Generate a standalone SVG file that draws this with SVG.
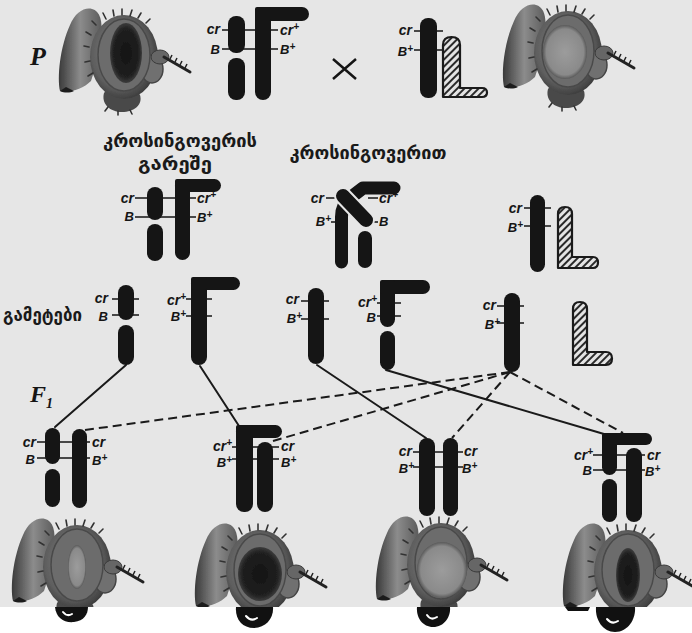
<svg xmlns="http://www.w3.org/2000/svg" width="692" height="633" viewBox="0 0 692 633">
<defs>
<style>
.ch{fill:#151515}
.tk{stroke:#151515;stroke-width:1.6;fill:none}
.lb{font-family:"Liberation Sans",Arial,sans-serif;font-style:italic;font-weight:bold;fill:#151515}
.cr{font-size:14px}
.b{font-size:13px}
.sp{font-size:10px}
.ge{font-family:"DejaVu Sans","Noto Sans Georgian",sans-serif;font-weight:bold;font-size:18px;fill:#1a1a1a}
.gen{font-family:"Liberation Serif","Times New Roman",serif;font-style:italic;font-weight:bold;fill:#151515}
.link{stroke:#1a1a1a;stroke-width:2;fill:none;stroke-linecap:round}
.dash{stroke-dasharray:9 5;stroke-linecap:butt}
.hatch{fill:url(#hatch);stroke:#1a1a1a;stroke-width:2.2;stroke-linejoin:round}
.mouth{fill:#111}
.glint{fill:none;stroke:#fff;stroke-width:2;stroke-linecap:round}
</style>
<pattern id="hatch" width="5" height="5" patternUnits="userSpaceOnUse" patternTransform="rotate(45)">
<rect width="5" height="5" fill="#e4e4e4"/>
<line x1="1" y1="0" x2="1" y2="5" stroke="#2a2a2a" stroke-width="2"/>
</pattern>
<linearGradient id="wingG" x1="0" y1="0" x2="1" y2="0">
<stop offset="0" stop-color="#3a3a3a"/><stop offset="0.5" stop-color="#8c8c8c"/><stop offset="1" stop-color="#5c5c5c"/>
</linearGradient>
<radialGradient id="headG" cx="0.45" cy="0.45" r="0.6">
<stop offset="0" stop-color="#8a8a8a"/><stop offset="0.7" stop-color="#5e5e5e"/><stop offset="1" stop-color="#353535"/>
</radialGradient>
<radialGradient id="darkEye">
<stop offset="0" stop-color="#141414"/><stop offset="0.8" stop-color="#202020"/><stop offset="1" stop-color="#3c3c3c"/>
</radialGradient>
<radialGradient id="lightEye">
<stop offset="0" stop-color="#9c9c9c"/><stop offset="0.85" stop-color="#8a8a8a"/><stop offset="1" stop-color="#5a5a5a"/>
</radialGradient>
<filter id="soft" x="-5%" y="-5%" width="110%" height="110%"><feGaussianBlur stdDeviation="0.6"/></filter>
<!-- fly head seen from the front-side; the eye is added per individual -->
<g id="fly">
<path d="M4,84 C1,70 4,40 14,18 C19,6 28,0 36,2 C44,4 47,14 45,30 C43,48 39,62 35,74 C27,82 14,86 4,84 Z" fill="url(#wingG)"/>
<path d="M4,84 C8,86 14,86 18,84 L10,80 Z" fill="#1e1e1e"/>
<path d="M48,86 C45,97 54,105 66,105 C78,105 87,98 84,88 C80,81 52,80 48,86 Z" fill="#4a4a4a"/>
<ellipse cx="68" cy="50" rx="34" ry="42" fill="url(#headG)"/>
<ellipse cx="96" cy="62" rx="11" ry="14" fill="#707070" stroke="#454545" stroke-width="1.5"/>
<ellipse cx="104" cy="50" rx="9" ry="7" fill="#666" stroke="#3a3a3a" stroke-width="1"/>
<path d="M108,50 L134,65" stroke="#222" stroke-width="3" stroke-linecap="round"/>
<path d="M114,52 l2,-4 M119,55 l2,-4 M124,58 l2,-4 M129,61 l2,-4" stroke="#222" stroke-width="1.5"/>
<path d="M50,12 l-3,-6 M58,9 l-1,-6 M66,8 l0,-6 M74,9 l2,-6 M82,11 l3,-5 M90,16 l4,-4 M40,18 l-4,-4 M35,28 l-5,-3 M33,40 l-5,-1 M34,54 l-5,1 M37,66 l-5,3 M52,100 l-3,4 M62,104 l0,4 M74,103 l2,4" stroke="#333" stroke-width="1.6" stroke-linecap="round"/>
<ellipse cx="68" cy="48" rx="26" ry="36" fill="#6c6c6c" stroke="#4a4a4a" stroke-width="1.5"/>
</g>
</defs>

<!-- page -->
<rect width="692" height="633" fill="#e6e6e6"/>

<!-- flies -->
<g id="fly-p1" transform="translate(56,7)" filter="url(#soft)">
<use href="#fly"/><ellipse cx="70" cy="46" rx="16" ry="30" fill="url(#darkEye)"/>
</g>
<g id="fly-p2" transform="translate(500,3)" filter="url(#soft)">
<use href="#fly"/><ellipse cx="65" cy="49" rx="22" ry="27" fill="url(#lightEye)"/>
</g>
<g id="fly-f1" transform="translate(9,517)" filter="url(#soft)">
<use href="#fly"/><ellipse cx="68" cy="50" rx="9" ry="22" fill="url(#lightEye)"/>
</g>
<g id="fly-f2" transform="translate(192,522)" filter="url(#soft)">
<use href="#fly"/><ellipse cx="68" cy="52" rx="22" ry="27" fill="url(#darkEye)"/>
</g>
<g id="fly-f3" transform="translate(373,515)" filter="url(#soft)">
<use href="#fly"/><ellipse cx="69" cy="55" rx="25" ry="28" fill="url(#lightEye)"/>
</g>
<g id="fly-f4" transform="translate(560,522)" filter="url(#soft)">
<use href="#fly"/><ellipse cx="68" cy="53" rx="12" ry="27" fill="url(#darkEye)"/>
</g>

<!-- bottom strip with mouthparts -->
<rect x="0" y="607" width="692" height="26" fill="#fff"/>
<g id="mouthparts">
<path class="mouth" d="M55,607 H88 C88,614 84,621 74,622 C64,623 56,618 55,607 Z"/><path class="glint" d="M63,612 q4,5 9,2"/>
<path class="mouth" d="M236,607 H273 C274,618 266,628 254,628 C242,628 235,619 236,607 Z"/><path class="glint" d="M246,616 q5,6 11,2"/>
<path class="mouth" d="M417,607 H450 C451,617 444,627 433,627 C423,627 416,618 417,607 Z"/><path class="glint" d="M427,615 q4,6 10,2"/>
<path class="mouth" d="M596,607 H635 C636,619 628,632 615,632 C603,632 595,620 596,607 Z"/><path class="glint" d="M607,619 q5,6 11,2"/>
<path class="mouth" d="M565,607 H590 L588,611 H568 Z"/>
</g>

<!-- generation marks -->
<text class="gen" x="30" y="65" font-size="26">P</text>
<text class="gen" x="30" y="402" font-size="24">F<tspan font-size="14" dy="6">1</tspan></text>
<path d="M333,59 L356,79 M356,59 L333,79" stroke="#151515" stroke-width="2.5" fill="none"/>

<!-- captions -->
<text class="ge" x="180" y="147" text-anchor="middle" textLength="154" lengthAdjust="spacingAndGlyphs">კროსინგოვერის</text>
<text class="ge" x="175" y="170" text-anchor="middle" textLength="74" lengthAdjust="spacingAndGlyphs">გარეშე</text>
<text class="ge" x="368" y="159" text-anchor="middle" textLength="157" lengthAdjust="spacingAndGlyphs">კროსინგოვერით</text>
<text class="ge" x="3" y="321" font-size="16" textLength="79" lengthAdjust="spacingAndGlyphs">გამეტები</text>

<!-- connectors -->
<g id="connectors">
<path class="link" d="M126,365 L55,427"/>
<path class="link" d="M200,366 L239,426"/>
<path class="link" d="M317,365 L426,438"/>
<path class="link" d="M386,370 L604,434"/>
<path class="link dash" d="M510,372 L85,430"/>
<path class="link dash" d="M510,372 L273,441"/>
<path class="link dash" d="M510,372 L452,438"/>
<path class="link dash" d="M510,372 L623,433"/>
</g>

<!-- parents -->
<g id="p-female">
<path class="tk" d="M222,30 H278 M222,49 H278"/>
<rect class="ch" x="228" y="16" width="17" height="37" rx="8"/>
<rect class="ch" x="228" y="58" width="17" height="42" rx="8"/>
<rect class="ch" x="255" y="7" width="16" height="93" rx="8"/>
<rect class="ch" x="255" y="7" width="54" height="14" rx="7"/>
<rect class="ch" x="255" y="7" width="16" height="14" rx="2"/>
<text class="lb cr" x="220" y="34" text-anchor="end">cr</text>
<text class="lb b" x="220" y="54" text-anchor="end">B</text>
<text class="lb cr" x="280" y="35">cr<tspan class="sp" dy="-5">+</tspan></text>
<text class="lb b" x="280" y="54">B<tspan class="sp" dy="-4">+</tspan></text>
</g>
<g id="p-male">
<path class="tk" d="M414,31 H443 M414,50 H443"/>
<rect class="ch" x="420" y="18" width="17" height="80" rx="8"/>
<path class="hatch" d="M443,97 V45 Q443,37 451.5,37 Q460,37 460,45 V88 H482 Q487,88 487,92.5 Q487,97 482,97 Z"/>
<text class="lb cr" x="412" y="35" text-anchor="end">cr</text>
<text class="lb b" x="413" y="56" text-anchor="end">B<tspan class="sp" dy="-4">+</tspan></text>
</g>

<!-- meiosis without crossing over -->
<g id="no-crossover">
<path class="tk" d="M135,198 H196 M135,217 H196"/>
<rect class="ch" x="147" y="187" width="16" height="33" rx="8"/>
<rect class="ch" x="147" y="224" width="16" height="37" rx="8"/>
<rect class="ch" x="175" y="179" width="15" height="81" rx="7.5"/>
<rect class="ch" x="175" y="179" width="46" height="13" rx="6.5"/>
<rect class="ch" x="175" y="179" width="15" height="13" rx="2"/>
<text class="lb cr" x="134" y="203" text-anchor="end">cr</text>
<text class="lb b" x="134" y="221" text-anchor="end">B</text>
<text class="lb cr" x="197" y="203">cr<tspan class="sp" dy="-5">+</tspan></text>
<text class="lb b" x="197" y="222">B<tspan class="sp" dy="-4">+</tspan></text>
</g>

<!-- meiosis with crossing over -->
<g id="crossover">
<path class="tk" d="M326,198 H340 M368,198 H378 M331,222 H338 M366,222 H378"/>
<path d="M341.5,262 V217 Q341.5,205 350,198 L363,188 H394" stroke="#151515" stroke-width="13" fill="none" stroke-linecap="round" stroke-linejoin="round"/>
<rect class="ch" x="358" y="231" width="14" height="37" rx="7"/>
<path d="M343,196 L366,220" stroke="#e6e6e6" stroke-width="18" stroke-linecap="round"/>
<path d="M343,196 L366,220" stroke="#151515" stroke-width="14" stroke-linecap="round"/>
<text class="lb cr" x="324" y="203" text-anchor="end">cr</text>
<text class="lb b" x="331" y="226" text-anchor="end">B<tspan class="sp" dy="-4">+</tspan></text>
<text class="lb cr" x="379" y="203">cr<tspan class="sp" dy="-5">+</tspan></text>
<text class="lb b" x="379" y="226">B</text>
</g>

<g id="male-meiosis">
<path class="tk" d="M524,208 H551 M524,226 H551"/>
<rect class="ch" x="530" y="195" width="15" height="77" rx="7.5"/>
<path class="hatch" d="M558,268 V214 Q558,207 565,207 Q572,207 572,214 V257 H593 Q598,257 598,262.5 Q598,268 593,268 Z"/>
<text class="lb cr" x="522" y="213" text-anchor="end">cr</text>
<text class="lb b" x="523" y="232" text-anchor="end">B<tspan class="sp" dy="-4">+</tspan></text>
</g>

<!-- gametes -->
<g id="gamete-1">
<path class="tk" d="M112,299 H139 M112,315 H139"/>
<rect class="ch" x="118" y="285" width="16" height="35" rx="8"/>
<rect class="ch" x="118" y="325" width="16" height="40" rx="8"/>
<text class="lb cr" x="108" y="303" text-anchor="end">cr</text>
<text class="lb b" x="108" y="321" text-anchor="end">B</text>
</g>
<g id="gamete-2">
<path class="tk" d="M186,299 H212 M186,316 H212"/>
<rect class="ch" x="191" y="277" width="16" height="88" rx="8"/>
<rect class="ch" x="191" y="277" width="49" height="13" rx="6.5"/>
<rect class="ch" x="191" y="277" width="16" height="13" rx="2"/>
<text class="lb cr" x="186" y="305" text-anchor="end">cr<tspan class="sp" dy="-5">+</tspan></text>
<text class="lb b" x="186" y="321" text-anchor="end">B<tspan class="sp" dy="-4">+</tspan></text>
</g>
<g id="gamete-3">
<path class="tk" d="M301,301 H329 M301,319 H329"/>
<rect class="ch" x="308" y="288" width="16" height="76" rx="8"/>
<text class="lb cr" x="299" y="304" text-anchor="end">cr</text>
<text class="lb b" x="302" y="323" text-anchor="end">B<tspan class="sp" dy="-4">+</tspan></text>
</g>
<g id="gamete-4">
<path class="tk" d="M377,303 H401 M377,316 H401"/>
<rect class="ch" x="380" y="280" width="15" height="47" rx="7.5"/>
<rect class="ch" x="380" y="280" width="50" height="14" rx="7"/>
<rect class="ch" x="380" y="280" width="15" height="14" rx="2"/>
<rect class="ch" x="380" y="331" width="15" height="39" rx="7.5"/>
<text class="lb cr" x="377" y="307" text-anchor="end">cr<tspan class="sp" dy="-5">+</tspan></text>
<text class="lb b" x="376" y="322" text-anchor="end">B</text>
</g>
<g id="gamete-5">
<path class="tk" d="M497,306 H524 M497,323 H524"/>
<rect class="ch" x="504" y="293" width="16" height="79" rx="8"/>
<text class="lb cr" x="496" y="310" text-anchor="end">cr</text>
<text class="lb b" x="500" y="329" text-anchor="end">B<tspan class="sp" dy="-4">+</tspan></text>
</g>
<g id="gamete-6">
<path class="hatch" d="M573,365 V309 Q573,302 580,302 Q587,302 587,309 V352 H606 Q612,352 612,358.5 Q612,365 606,365 Z"/>
</g>

<!-- F1 offspring -->
<g id="f1-a">
<path class="tk" d="M37,442 H90 M37,458 H90"/>
<rect class="ch" x="45" y="428" width="15" height="36" rx="7.5"/>
<rect class="ch" x="45" y="469" width="15" height="38" rx="7.5"/>
<rect class="ch" x="72" y="429" width="15" height="79" rx="7.5"/>
<text class="lb cr" x="36" y="447" text-anchor="end">cr</text>
<text class="lb b" x="35" y="464" text-anchor="end">B</text>
<text class="lb cr" x="92" y="447">cr</text>
<text class="lb b" x="92" y="465">B<tspan class="sp" dy="-4">+</tspan></text>
</g>
<g id="f1-b">
<path class="tk" d="M232,447 H279 M232,459 H279"/>
<rect class="ch" x="236" y="425" width="17" height="87" rx="8"/>
<rect class="ch" x="236" y="425" width="46" height="13" rx="6.5"/>
<rect class="ch" x="236" y="425" width="17" height="13" rx="2"/>
<rect class="ch" x="257" y="442" width="16" height="70" rx="8"/>
<text class="lb cr" x="232" y="451" text-anchor="end">cr<tspan class="sp" dy="-5">+</tspan></text>
<text class="lb b" x="232" y="467" text-anchor="end">B<tspan class="sp" dy="-4">+</tspan></text>
<text class="lb cr" x="281" y="451">cr</text>
<text class="lb b" x="281" y="467">B<tspan class="sp" dy="-4">+</tspan></text>
</g>
<g id="f1-c">
<path class="tk" d="M413,452 H463 M413,467 H463"/>
<rect class="ch" x="419" y="438" width="16" height="78" rx="8"/>
<rect class="ch" x="443" y="438" width="15" height="78" rx="7.5"/>
<text class="lb cr" x="412" y="456" text-anchor="end">cr</text>
<text class="lb b" x="414" y="473" text-anchor="end">B<tspan class="sp" dy="-4">+</tspan></text>
<text class="lb cr" x="464" y="456">cr</text>
<text class="lb b" x="462" y="473">B<tspan class="sp" dy="-4">+</tspan></text>
</g>
<g id="f1-d">
<path class="tk" d="M593,455 H645 M593,470 H645"/>
<rect class="ch" x="602" y="433" width="15" height="42" rx="7.5"/>
<rect class="ch" x="602" y="433" width="50" height="12" rx="6"/>
<rect class="ch" x="602" y="433" width="15" height="12" rx="2"/>
<rect class="ch" x="602" y="479" width="15" height="43" rx="7.5"/>
<rect class="ch" x="626" y="448" width="16" height="74" rx="8"/>
<text class="lb cr" x="593" y="460" text-anchor="end">cr<tspan class="sp" dy="-5">+</tspan></text>
<text class="lb b" x="592" y="475" text-anchor="end">B</text>
<text class="lb cr" x="647" y="460">cr</text>
<text class="lb b" x="645" y="476">B<tspan class="sp" dy="-4">+</tspan></text>
</g>
</svg>
